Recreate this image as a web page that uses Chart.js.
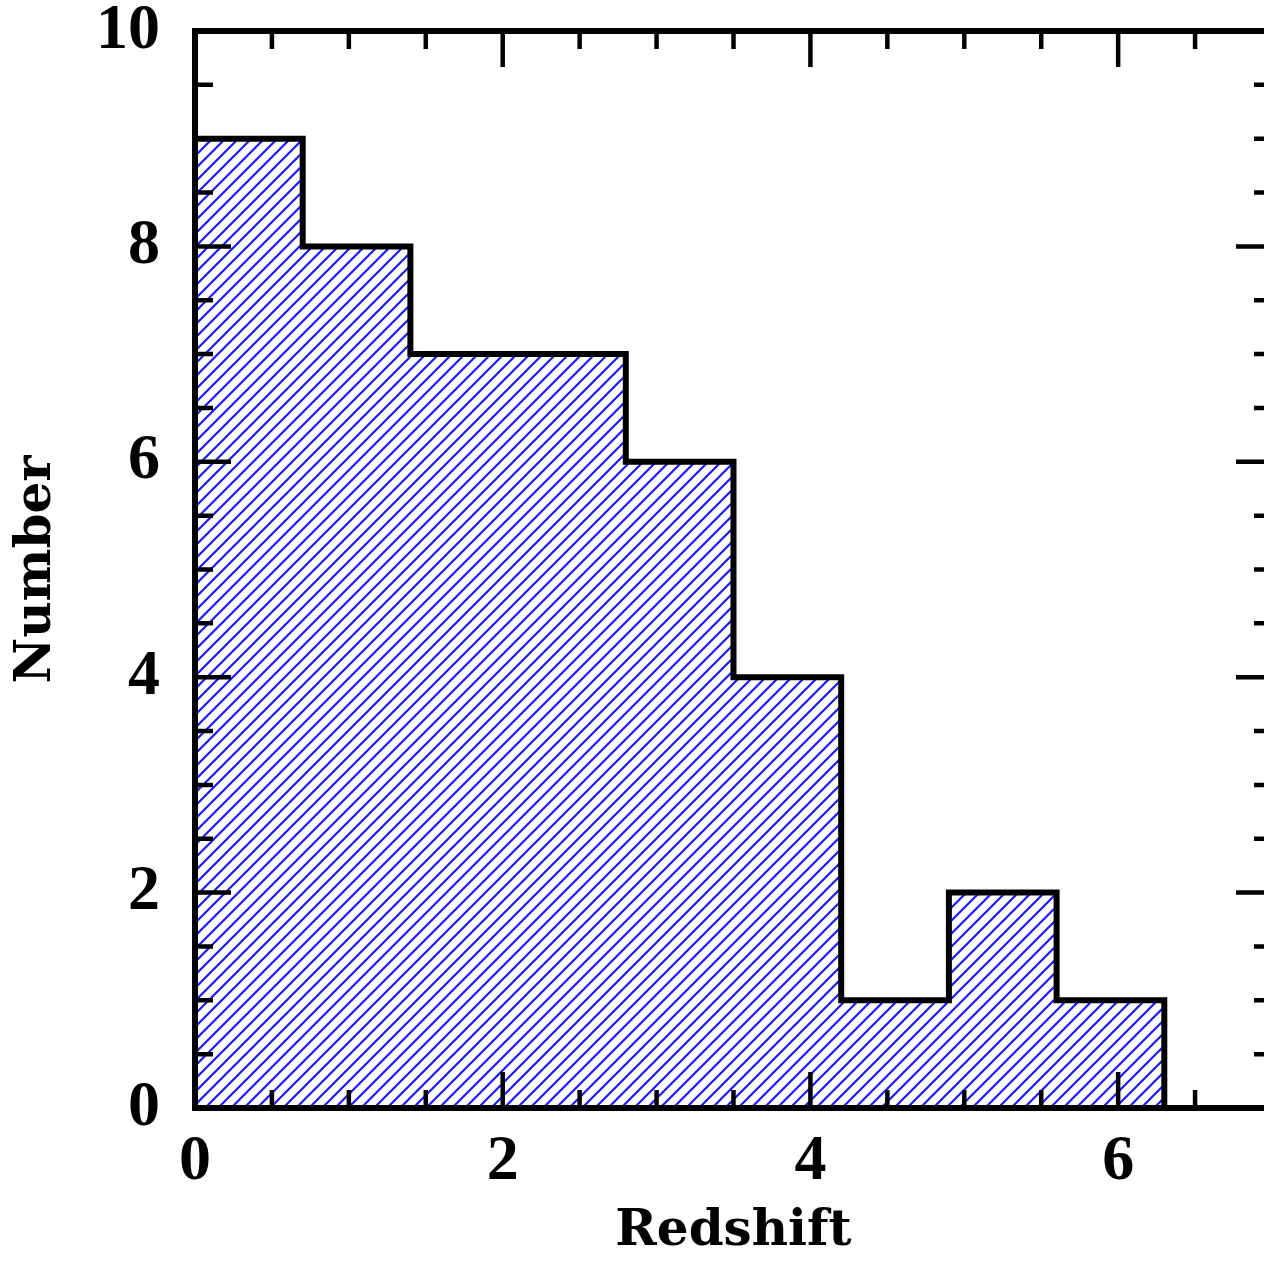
<!doctype html>
<html lang="en">
<head>
  <meta charset="utf-8" />
  <title>Redshift histogram</title>
  <script src="https://cdn.jsdelivr.net/npm/chart.js@4.4.1/dist/chart.umd.min.js"></script>
  <style>
    *{box-sizing:border-box;margin:0;padding:0}
    html,body{width:1264px;height:1261px;overflow:hidden;background:#fff}
    #wrapper{width:1300px;height:1261px;position:relative}
  </style>
</head>
<body>
  <div id="wrapper"><canvas id="hist"></canvas></div>

  <script>
    // bin edges (redshift) and counts per bin
    const binEdges = [0, 0.7, 1.4, 2.1, 2.8, 3.5, 4.2, 4.9, 5.6, 6.3];
    const counts   = [9, 8, 7, 7, 6, 4, 1, 2, 1];

    // labelled ticks and axis ranges
    const xTickLabels = [0, 2, 4, 6];
    const yTickLabels = [0, 2, 4, 6, 8, 10];
    const xRange = [0, 7];
    const yRange = [0, 10];
    const minorStep = 0.5;

    // step outline: up the left edge, then across each bin, then down to zero
    function stepPoints(){
      const pts = [{x: binEdges[0], y: 0}];
      counts.forEach((c, i) => pts.push({x: binEdges[i], y: c}));
      const last = binEdges[binEdges.length - 1];
      pts.push({x: last, y: counts[counts.length - 1]});
      pts.push({x: last, y: 0});
      return pts;
    }

    // diagonal blue hatching
    function hatch(){
      const s = 13;
      const c = document.createElement('canvas');
      c.width = s; c.height = s;
      const g = c.getContext('2d');
      g.strokeStyle = '#1a1aff';
      g.lineWidth = 2.2;
      g.beginPath();
      g.moveTo(0, s); g.lineTo(s, 0);
      g.moveTo(-2, 2); g.lineTo(2, -2);
      g.moveTo(s - 2, s + 2); g.lineTo(s + 2, s - 2);
      g.stroke();
      return g.createPattern(c, 'repeat');
    }

    // frame with inward minor/major ticks on all four sides
    const framePlugin = {
      id: 'frame',
      afterDatasetsDraw(chart){
        const {ctx, chartArea: a, scales: {x, y}} = chart;
        ctx.save();
        ctx.strokeStyle = '#000';
        ctx.lineCap = 'butt';
        ctx.lineWidth = 4.5;
        const isMajor = v => Math.abs(v / 2 - Math.round(v / 2)) < 1e-6;
        for (let v = xRange[0] + minorStep; v < xRange[1] - 1e-6; v += minorStep){
          const px = x.getPixelForValue(v);
          const len = isMajor(v) ? 36 : 18;
          ctx.beginPath();
          ctx.moveTo(px, a.bottom); ctx.lineTo(px, a.bottom - len);
          ctx.moveTo(px, a.top); ctx.lineTo(px, a.top + len);
          ctx.stroke();
        }
        for (let v = yRange[0] + minorStep; v < yRange[1] - 1e-6; v += minorStep){
          const py = y.getPixelForValue(v);
          const len = isMajor(v) ? 36 : 18;
          ctx.beginPath();
          ctx.moveTo(a.left, py); ctx.lineTo(a.left + len, py);
          ctx.moveTo(a.right, py); ctx.lineTo(a.right - len, py);
          ctx.stroke();
        }
        ctx.lineWidth = 6;
        ctx.lineJoin = 'miter';
        ctx.strokeRect(a.left, a.top, a.right - a.left, a.bottom - a.top);
        ctx.restore();
      }
    };

    const tickFont = {family: '"Liberation Serif", serif', size: 64, weight: 'bold', lineHeight: 1};
    const titleFont = {family: '"DejaVu Serif", serif', size: 50, weight: 'bold', lineHeight: 1};

    new Chart(document.getElementById('hist'), {
      type: 'line',
      data: {
        datasets: [{
          data: stepPoints(),
          stepped: 'before',
          borderColor: '#000',
          borderWidth: 6,
          borderJoinStyle: 'miter',
          backgroundColor: hatch(),
          fill: 'origin',
          pointRadius: 0,
          tension: 0
        }]
      },
      options: {
        responsive: true,
        maintainAspectRatio: false,
        animation: false,
        layout: {padding: {top: 31, right: 28, left: 0, bottom: 0}},
        plugins: {legend: {display: false}, tooltip: {enabled: false}},
        scales: {
          x: {
            type: 'linear',
            min: xRange[0], max: xRange[1],
            grid: {display: false, drawTicks: false},
            border: {display: false},
            afterBuildTicks: s => { s.ticks = xTickLabels.map(v => ({value: v})); },
            afterFit: s => { s.height = 153; s.paddingLeft = 0; s.paddingRight = 0; },
            ticks: {color: '#000', font: tickFont, padding: 22, maxRotation: 0},
            title: {display: true, text: 'Redshift', color: '#000', font: titleFont, padding: {top: 0, bottom: 4}}
          },
          y: {
            type: 'linear',
            min: yRange[0], max: yRange[1],
            grid: {display: false, drawTicks: false},
            border: {display: false},
            afterBuildTicks: s => { s.ticks = yTickLabels.map(v => ({value: v})); },
            afterFit: s => { s.width = 195; s.paddingTop = 0; s.paddingBottom = 0; },
            ticks: {color: '#000', font: tickFont, padding: 35},
            title: {display: true, text: 'Number', color: '#000', font: titleFont, padding: {top: 12, bottom: 0}}
          }
        }
      },
      plugins: [framePlugin]
    });
  </script>
</body>
</html>
